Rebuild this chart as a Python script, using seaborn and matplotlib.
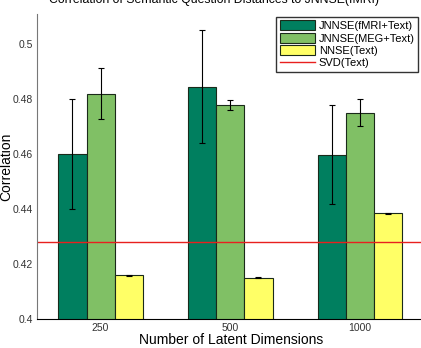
import pandas as pd
import seaborn as sns
import matplotlib.pyplot as plt
import numpy as np

plt.rcParams['font.family'] = ['Liberation Sans', 'DejaVu Sans']

##### data
dims = ['250', '500', '1000']
methods = ['JNNSE(fMRI+Text)', 'JNNSE(MEG+Text)', 'NNSE(Text)']
fmri = [0.460, 0.4846, 0.4598]
meg = [0.482, 0.478, 0.4751]
nnse = [0.4159, 0.4151, 0.4384]
fmri_err = [0.020, 0.0206, 0.0181]
meg_err = [0.0093, 0.0018, 0.0049]
nnse_err = [0.0002, 0.0002, 0.0002]
svd = 0.4282

colors = ['#007f5f', '#80c065', '#ffff66']

df = pd.DataFrame({
    'dim': dims * 3,
    'method': np.repeat(methods, 3),
    'corr': fmri + meg + nnse,
})
errs = [fmri_err, meg_err, nnse_err]

### the plot
fig = plt.figure(figsize=(4.21, 3.48), dpi=100)
ax = fig.add_axes([37 / 421, 29 / 348, 388 / 421, 305 / 348])

sns.barplot(data=df, x='dim', y='corr', hue='method', order=dims, hue_order=methods,
            palette=colors, width=0.65, errorbar=None, ax=ax, saturation=1,
            edgecolor='#1a2a1a', linewidth=0.8)

for cont, err in zip(ax.containers, errs):
    xs = [b.get_x() + b.get_width() / 2 for b in cont]
    ys = [b.get_height() for b in cont]
    ax.errorbar(xs, ys, yerr=err, fmt='none', ecolor='black', elinewidth=0.8,
                capsize=2.5, capthick=0.8)

ax.axhline(svd, color='#e8201e', lw=1, label='SVD(Text)')

ax.set_ylim(0.4, 0.511)
ax.set_xlim(-0.49, 2.5)
ax.set_yticks([0.4, 0.42, 0.44, 0.46, 0.48, 0.5])
ax.set_yticklabels(['0.4', '0.42', '0.44', '0.46', '0.48', '0.5'])
ax.tick_params(labelsize=7.5, length=0, colors='#333333')
ax.tick_params(axis='x', pad=3)
ax.tick_params(axis='y', pad=3)
for s in ['top', 'right']:
    ax.spines[s].set_visible(False)
ax.spines['left'].set_color('#777777')
ax.spines['bottom'].set_color('black')

ax.set_xlabel('Number of Latent Dimensions', fontsize=10, labelpad=0)
ax.set_ylabel('Correlation', fontsize=10)
ax.yaxis.set_label_coords(-24 / 388, 0.5)

h, l = ax.get_legend_handles_labels()
leg = ax.legend(h, l, loc='upper right', bbox_to_anchor=(418 / 421, 1 - 17 / 348),
                bbox_transform=fig.transFigure, fontsize=8, frameon=True, fancybox=False,
                edgecolor='black', handlelength=3.2, handleheight=1.0, labelspacing=0.15,
                borderpad=0.3, handletextpad=0.3, borderaxespad=0)
leg.get_frame().set_linewidth(1)

fig.text(0.508, 1.0, 'Correlation of Semantic Question Distances to JNNSE(fMRI)',
         ha='center', va='center', fontsize=8.8)

fig.savefig('out.png', dpi=100)
